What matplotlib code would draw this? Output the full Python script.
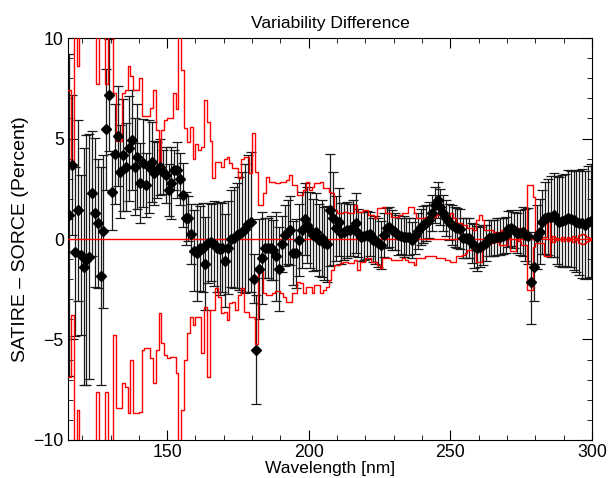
import numpy as np
import matplotlib.pyplot as plt

plt.rcParams['font.family'] = ['Liberation Sans', 'DejaVu Sans']

########## Data ##########
# black diamonds: SATIRE - SORCE difference, 1 nm bins from 115.5 nm
wavelength = np.arange(115.5, 300.0, 1.0)

diff = [
    1.19, 3.68, -0.63, 1.44, -0.80, -1.38, -1.04, -0.88, 2.27, 1.31,
    0.78, -1.84, 0.38, 5.46, 7.16, 2.35, 4.23, 5.12, 3.35, 4.18,
    3.57, 4.51, 4.93, 3.60, 4.10, 2.80, 3.78, 2.69, 3.60, 3.83,
    3.30, 3.45, 3.58, 3.35, 3.20, 2.45, 2.78, 3.42, 3.42, 2.98,
    2.18, 1.02, 1.02, 0.24, -0.58, -0.68, -0.47, -0.43, -1.22, -0.20,
    -0.17, -0.23, -0.43, -0.48, -0.43, -1.07, -0.43, 0.02, 0.07, 0.18,
    0.26, 0.35, 0.51, 0.76, 0.84, -1.97, -5.50, -1.50, -0.95, -0.45,
    -0.45, -0.45, -0.56, -0.86, -1.49, -0.26, 0.18, 0.35, 0.43, -0.70,
    -0.72, -0.06, 0.45, 1.00, 0.70, 0.45, 0.20, 0.37, -0.05, 0.03,
    -0.22, -0.25, 1.44, 1.03, 0.53, 0.86, 0.28, 0.37, 0.45, 0.45,
    0.53, 0.78, 0.30, 0.12, 0.14, 0.20, 0.25, -0.05, -0.05, -0.18,
    -0.30, 0.20, 0.53, 0.61, 0.45, 0.37, 0.20, 0.15, 0.12, 0.12,
    0.12, -0.05, 0.15, 0.40, 0.60, 0.72, 0.80, 0.95, 1.30, 1.70,
    1.94, 1.60, 1.30, 1.03, 0.85, 0.70, 0.60, 0.55, 0.50, 0.03,
    0.05, 0.03, -0.20, -0.35, -0.47, -0.38, -0.30, -0.20, 0.03, 0.03,
    0.05, 0.12, 0.12, 0.15, 0.20, 0.50, 0.53, 0.45, 0.28, 0.32,
    0.37, 0.20, 0.15, -2.12, -1.37, 0.10, 0.37, 0.86, 1.03, 1.08,
    1.11, 1.20, 0.95, 0.86, 0.90, 0.95, 1.03, 1.00, 0.95, 0.86,
    0.82, 0.78, 0.70, 0.85, 0.91,
]

diff_err = [
    8.0, 3.5, 4.2, 4.5, 4.0, 5.9, 6.2, 6.1, 3.1, 3.7,
    3.2, 5.4, 3.8, 3.0, 2.8, 1.9, 2.5, 2.5, 2.3, 2.8,
    2.2, 2.6, 2.5, 2.4, 2.6, 2.0, 2.2, 1.6, 2.3, 2.0,
    1.6, 1.4, 1.4, 1.1, 1.4, 1.3, 1.8, 1.0, 1.4, 1.3,
    1.6, 1.3, 1.1, 1.5, 2.0, 2.4, 2.1, 2.2, 2.3, 2.0,
    1.9, 2.1, 2.2, 2.3, 2.2, 2.3, 2.3, 2.4, 2.5, 2.6,
    2.8, 3.0, 3.2, 3.4, 3.5, 1.2, 2.7, 2.5, 2.3, 1.5,
    1.5, 1.6, 1.5, 2.2, 2.1, 1.4, 1.5, 1.6, 1.7, 1.6,
    1.7, 1.8, 1.9, 1.8, 1.9, 1.9, 1.8, 1.9, 1.8, 1.9,
    1.8, 1.9, 2.8, 2.3, 1.6, 1.7, 1.5, 1.4, 1.4, 1.3,
    1.4, 1.5, 1.2, 1.2, 1.2, 1.2, 1.1, 1.1, 1.2, 1.2,
    1.2, 1.1, 1.0, 1.0, 1.0, 0.9, 1.0, 0.9, 1.0, 0.9,
    0.9, 0.9, 0.9, 0.9, 0.9, 0.9, 0.9, 0.9, 0.9, 0.9,
    0.9, 0.9, 0.9, 0.9, 0.9, 1.0, 1.0, 1.0, 1.0, 1.0,
    1.0, 1.0, 1.0, 1.1, 1.1, 1.0, 1.0, 0.9, 0.9, 0.9,
    0.9, 0.9, 0.9, 0.9, 0.9, 0.9, 0.9, 0.9, 1.0, 1.1,
    1.2, 1.3, 1.4, 2.1, 1.7, 1.6, 1.6, 1.6, 1.8, 1.9,
    2.0, 2.1, 2.2, 2.2, 2.3, 2.3, 2.4, 2.4, 2.5, 2.5,
    2.6, 2.7, 2.7, 2.8, 2.8,
]

# red step envelope, 1 nm bins starting at 115 nm (off-chart values = 12)
edges = np.arange(115, 301)

upper = [
    7.4, 3.9, 12, 8.6, 12, 12, 12, 12, 12, 12,
    7.7, 12, 12, 7.7, 12, 12, 7.25, 4.9, 4.9, 7.25,
    7.4, 8.6, 8.1, 7.4, 7.4, 8.0, 6.1, 6.1, 6.1, 6.5,
    7.4, 5.4, 3.8, 5.4, 5.9, 6.0, 6.0, 7.25, 6.45, 12,
    8.4, 5.5, 4.84, 5.58, 4.0, 4.75, 4.42, 4.6, 6.9, 5.84,
    4.9, 3.02, 3.85, 3.85, 3.6, 4.0, 4.1, 3.77, 3.52, 3.52,
    3.02, 4.0, 4.1, 4.1, 3.27, 5.26, 3.35, 1.69, 1.69, 2.27,
    3.1, 2.85, 2.85, 2.77, 2.77, 2.85, 2.85, 2.94, 3.19, 2.69,
    2.69, 2.19, 2.19, 2.44, 2.85, 2.44, 2.6, 2.77, 2.77, 2.85,
    2.52, 2.52, 2.36, 2.27, 1.44, 1.31, 1.31, 1.36, 1.36, 1.28,
    1.28, 1.69, 1.36, 1.36, 1.44, 1.44, 1.19, 1.19, 1.03, 1.52,
    1.52, 1.6, 1.28, 1.28, 1.11, 1.11, 1.11, 1.19, 1.31, 1.31,
    1.57, 1.6, 1.28, 1.03, 1.03, 1.03, 1.08, 1.08, 1.08, 1.08,
    1.19, 1.19, 1.11, 1.11, 1.11, 1.28, 1.03, 0.78, 0.78, 0.70,
    0.70, 0.53, 0.53, 0.45, 0.95, 1.19, 0.95, 0.45, 0.45, 0.45,
    0.37, 0.37, 0.37, 0.45, 0.53, 0.53, 0.60, 0.60, 0.53, 0.53,
    0.45, 0.28, 2.69, 2.69, 2.11, 0.15, 0.12, 0.12, 0.12, 0.95,
    0.05, 0.15, 0.05, 0.0, 0.12, 0.0, 0.1, 0.05, 0.15, 0.05,
    0.2, 0.25, 0.2, 0.1, 0.05,
]

lower = [
    -6.85, -3.8, -12, -8.5, -12, -12, -12, -12, -12, -12,
    -7.6, -12, -12, -7.6, -12, -12, -4.78, -8.4, -8.4, -7.18,
    -7.35, -8.67, -6.02, -8.67, -8.67, -8.6, -5.52, -5.44, -5.44, -5.94,
    -7.18, -5.52, -3.7, -5.19, -5.77, -5.94, -5.85, -5.85, -6.68, -12,
    -8.5, -6.02, -4.69, -3.9, -4.28, -3.86, -3.86, -5.69, -3.37, -6.85,
    -3.53, -3.53, -2.45, -2.87, -3.7, -3.62, -4.03, -3.2, -3.12, -3.53,
    -2.79, -2.45, -3.62, -3.62, -3.86, -3.86, -5.2, -1.54, -1.54, -2.7,
    -2.8, -2.8, -2.7, -2.6, -2.6, -2.7, -2.87, -3.12, -3.12, -2.7,
    -2.7, -2.12, -2.2, -2.7, -2.37, -2.37, -2.7, -2.29, -2.29, -2.7,
    -2.54, -2.37, -2.04, -1.54, -1.29, -1.29, -1.21, -1.13, -1.13, -1.21,
    -1.21, -1.04, -1.54, -1.13, -1.13, -0.96, -0.96, -1.13, -1.13, -1.29,
    -1.46, -0.96, -0.96, -0.96, -1.04, -1.04, -1.04, -1.04, -0.96, -1.04,
    -1.13, -1.13, -1.29, -0.96, -0.96, -0.96, -0.87, -0.87, -0.87, -0.87,
    -0.96, -0.96, -0.96, -1.04, -1.04, -1.13, -1.13, -0.87, -0.87, -0.79,
    -0.70, -0.55, -0.55, -0.40, -1.13, -1.13, -0.38, -0.38, -0.22, -0.22,
    -0.13, -0.13, -0.30, -0.30, -0.30, 0.12, -0.62, -0.62, 0.05, -0.10,
    -0.30, -0.30, -2.53, -2.53, -0.38, -0.22, -0.22, -0.22, -0.87, -0.87,
    -0.05, -0.15, -0.05, 0.0, -0.12, 0.0, -0.1, -0.05, -0.15, -0.05,
    -0.2, -0.25, -0.2, -0.1, -0.05,
]


########## Plot ##########
fig = plt.figure(figsize=(6.09, 4.78), dpi=100)
ax = fig.add_axes([0.1117, 0.0795, 0.8604, 0.841])

ax.errorbar(wavelength, diff, yerr=diff_err, fmt='none', ecolor='0.1',
            elinewidth=0.9, capsize=3.6, capthick=0.9, zorder=2)

ax.plot(edges, upper + upper[-1:], drawstyle='steps-post', color='red', lw=1.0, zorder=3)
ax.plot(edges, lower + lower[-1:], drawstyle='steps-post', color='red', lw=1.0, zorder=3)
ax.axhline(0, color='red', lw=1.0, zorder=3)

ax.plot(wavelength, diff, 'D', color='black', markersize=5, zorder=4)

ax.set_xlim(115, 300)
ax.set_ylim(-10, 10)
ax.set_xticks([150, 200, 250, 300])
ax.set_xticks(np.arange(120, 300, 10), minor=True)
ax.set_yticks([-10, -5, 0, 5, 10])
ax.set_yticks(np.arange(-10, 11, 1), minor=True)
ax.tick_params(which='both', direction='in', top=True, right=True, labelsize=12.8)
ax.tick_params(which='major', length=7.5, pad=3)
ax.tick_params(which='minor', length=3.8)

ax.set_xlabel("Wavelength [nm]", fontsize=12.5, labelpad=0)
ax.set_ylabel("SATIRE \u2013 SORCE (Percent)", fontsize=14, labelpad=3)
ax.set_title("Variability Difference", fontsize=12.6, pad=7)

fig.savefig("out.png", dpi=100)
